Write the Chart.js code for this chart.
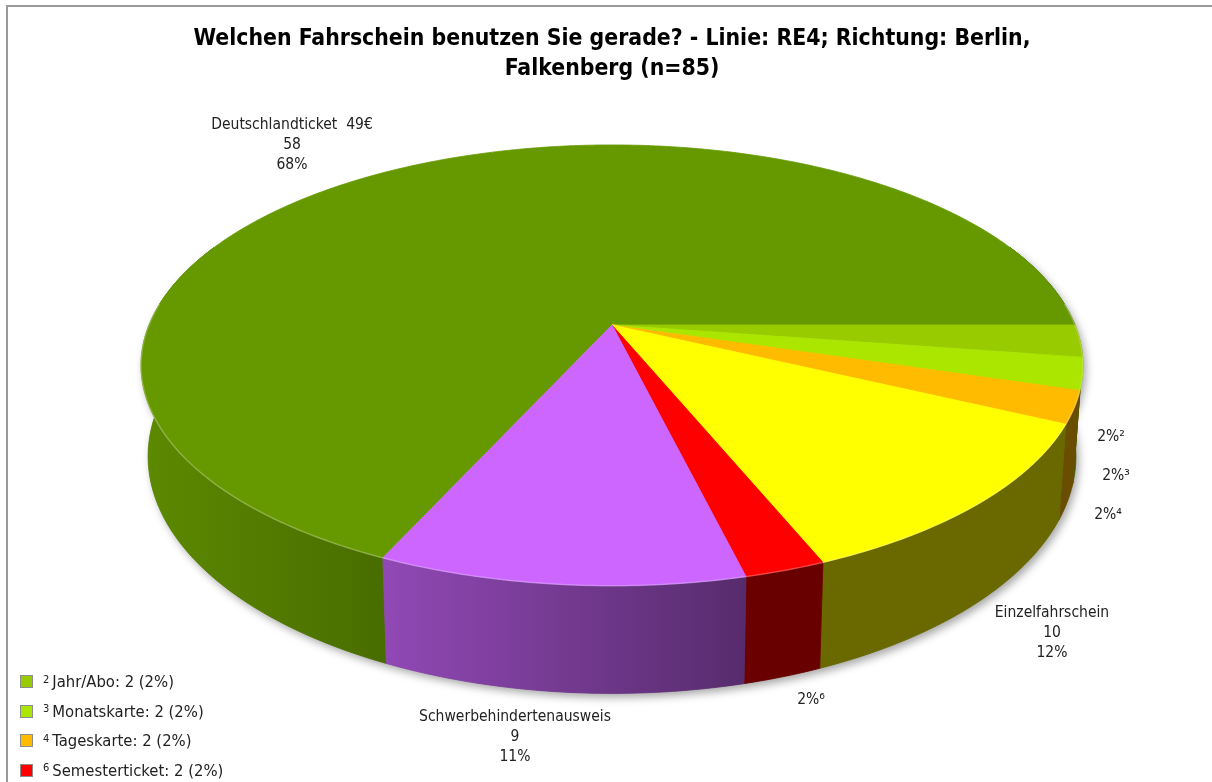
<!DOCTYPE html>
<html>
<head>
<meta charset="utf-8">
<script src="https://cdn.jsdelivr.net/npm/chart.js@4.4.1/dist/chart.umd.min.js"></script>
<style>
html,body{margin:0;padding:0;background:#fff;overflow:hidden}
#wrap{position:relative;width:1212px;height:782px;overflow:hidden}
#frame{position:absolute;left:6px;top:5px;width:1300px;height:900px;border-top:2px solid #9a9a9a;border-left:2px solid #9a9a9a}
#chart{position:absolute;left:0;top:0}
#legend{position:absolute;left:20px;top:667px;font:16.5px 'DejaVu Sans Condensed','DejaVu Sans',sans-serif;color:#222}
#legend .item{height:29.5px;display:flex;align-items:center}
#legend .box{width:11px;height:11px;border:1px solid #8c8c8c;margin-right:10px}
#legend sup{font-size:11px;line-height:0;position:relative;top:-2px;margin-right:3px}
</style>
</head>
<body>
<div id="wrap">
  <div id="frame"></div>
  <canvas id="chart" width="1212" height="782"></canvas>
  <div id="legend"></div>
</div>
<script>
// Welchen Fahrschein benutzen Sie gerade? RE4 Berlin, Falkenberg (n=85)

const categories = ['Deutschlandticket  49€', 'Jahr/Abo', 'Monatskarte', 'Tageskarte', 'Einzelfahrschein', 'Semesterticket', 'Schwerbehindertenausweis'];
const counts = [58, 2, 2, 2, 10, 2, 9];
const colors = ['#669900', '#99cc00', '#aae600', '#ffbb00', '#ffff00', '#ff0000', '#cc66ff'];
const titleLines = ['Welchen Fahrschein benutzen Sie gerade? - Linie: RE4; Richtung: Berlin,', 'Falkenberg (n=85)'];

const total = counts.reduce((a,b)=>a+b, 0);
const percents = counts.map(v => Math.round(v/total*100));
const SUP = '⁰¹²³⁴⁵⁶⁷⁸⁹';
const isSmall = i => percents[i] <= 2;

// look of the 3d pie (perspective tilt)
const R = 463, B = 213, P = 0.183, T = 88, BOTTOM_X = 0.985;
const FONT = "'DejaVu Sans Condensed','DejaVu Sans',sans-serif";
// where the data labels sit (centre of first line)
const labelPos = [[292,125],[1111,437],[1116,476],[1108,515],[1052,613],[811,700],[515,717]];

function shade(hex, k){
  const n = parseInt(hex.slice(1), 16);
  const r = Math.round(((n>>16)&255)*k), g = Math.round(((n>>8)&255)*k), b = Math.round((n&255)*k);
  return `rgb(${r},${g},${b})`;
}

const pie3d = {
  id: 'pie3d',
  beforeDatasetsDraw(chart){
    const ctx = chart.ctx;
    const arcs = chart.getDatasetMeta(0).data;
    const cx = arcs[0].x, cy = arcs[0].y;
    const proj = (t, down) => {
      const s = Math.sin(t), f = 1/(1 - P*s);
      return down ? [cx + R*BOTTOM_X*Math.cos(t)*f, cy + B*s*f + T*f]
                  : [cx + R*Math.cos(t)*f, cy + B*s*f];
    };
    const wallPath = (a, b) => {
      const n = Math.max(2, Math.ceil((b-a)/0.01));
      ctx.beginPath();
      for(let i=0;i<=n;i++){ const p = proj(a+(b-a)*i/n, false); i ? ctx.lineTo(p[0],p[1]) : ctx.moveTo(p[0],p[1]); }
      for(let i=n;i>=0;i--){ const p = proj(a+(b-a)*i/n, true); ctx.lineTo(p[0],p[1]); }
      ctx.closePath();
    };
    const lo = -0.4, hi = Math.PI + 0.4;

    ctx.save();
    // soft shadow under the whole pie
    ctx.shadowColor = 'rgba(0,0,0,0.35)';
    ctx.shadowBlur = 8; ctx.shadowOffsetX = 3; ctx.shadowOffsetY = 4;
    ctx.fillStyle = '#777';
    wallPath(lo, hi); ctx.fill();
    ctx.restore();

    // outer walls, back to front
    const segs = [];
    arcs.forEach((arc, i) => {
      for(let k=-2;k<=2;k++){
        const a = Math.max(arc.startAngle + 2*Math.PI*k, lo), b = Math.min(arc.endAngle + 2*Math.PI*k, hi);
        if(b > a) segs.push({i, a, b});
      }
    });
    segs.sort((u,v) => Math.sin((u.a+u.b)/2) - Math.sin((v.a+v.b)/2));
    segs.forEach(sg => {
      const g = ctx.createLinearGradient(cx-470, 0, cx+150, 0);
      g.addColorStop(0, shade(colors[sg.i], 0.9));
      g.addColorStop(1, shade(colors[sg.i], 0.41));
      ctx.fillStyle = g; ctx.strokeStyle = g; ctx.lineWidth = 0.8;
      wallPath(sg.a, sg.b); ctx.fill(); ctx.stroke();
    });

    // top faces
    arcs.forEach((arc, i) => {
      const a = arc.startAngle, b = arc.endAngle;
      const n = Math.max(2, Math.ceil((b-a)/0.01));
      ctx.beginPath();
      ctx.moveTo(cx, cy);
      for(let j=0;j<=n;j++){ const p = proj(a+(b-a)*j/n, false); ctx.lineTo(p[0],p[1]); }
      ctx.closePath();
      ctx.fillStyle = colors[i]; ctx.strokeStyle = colors[i]; ctx.lineWidth = 0.8;
      ctx.fill(); ctx.stroke();
    });

    // light rim along the front edge
    ctx.beginPath();
    for(let j=0;j<=300;j++){ const p = proj(-0.1 + (Math.PI+0.2)*j/300, false); j ? ctx.lineTo(p[0],p[1]) : ctx.moveTo(p[0],p[1]); }
    ctx.strokeStyle = 'rgba(255,255,255,0.25)'; ctx.lineWidth = 1.5; ctx.stroke();
    return false;
  },
  afterDraw(chart){
    const ctx = chart.ctx;
    ctx.save();
    ctx.fillStyle = '#222';
    ctx.font = '15.5px ' + FONT;
    ctx.textAlign = 'center'; ctx.textBaseline = 'middle';
    categories.forEach((c, i) => {
      const lines = isSmall(i) ? [percents[i] + '%' + SUP[i+1]] : [c, String(counts[i]), percents[i] + '%'];
      lines.forEach((t, j) => ctx.fillText(t, labelPos[i][0], labelPos[i][1] + j*20));
    });
    ctx.restore();
  }
};

new Chart(document.getElementById('chart'), {
  type: 'pie',
  data: { labels: categories, datasets: [{ data: counts, backgroundColor: colors, borderWidth: 0 }] },
  options: {
    responsive: false,
    animation: false,
    rotation: 90 - 360*counts[0]/total,
    layout: { padding: { left: 12, right: 0, top: 0, bottom: 216 } },
    plugins: {
      legend: { display: false },
      tooltip: { enabled: false },
      title: {
        display: true, text: titleLines, color: '#000',
        font: { family: FONT, size: 22.8, weight: 'bold', lineHeight: 30/22.8 },
        padding: { top: 24, bottom: 0 }
      }
    }
  },
  plugins: [pie3d]
});

// legend for the small slices
const legend = document.getElementById('legend');
categories.forEach((c, i) => {
  if(!isSmall(i)) return;
  const row = document.createElement('div');
  row.className = 'item';
  row.innerHTML = `<span class="box" style="background:${colors[i]}"></span><sup>${i+1}</sup>${c}: ${counts[i]} (${percents[i]}%)`;
  legend.appendChild(row);
});
</script>
</body>
</html>
